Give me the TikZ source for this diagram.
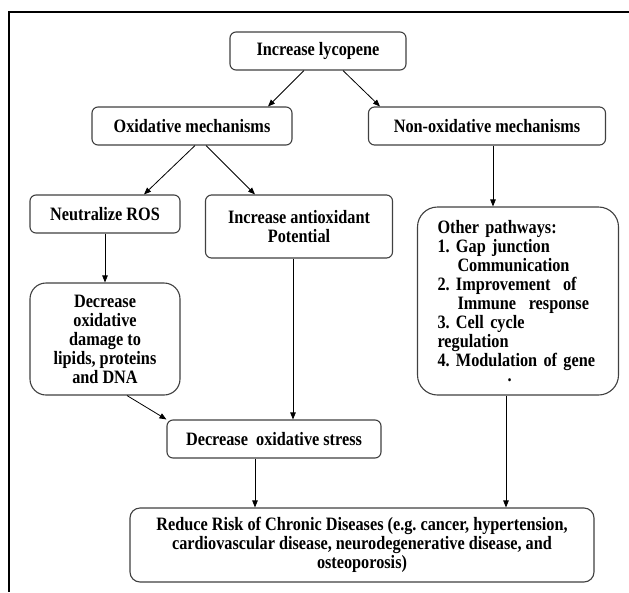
\documentclass[tikz,border=0pt]{standalone}
\usepackage{fontspec}
\setmainfont{Liberation Serif}[FakeStretch=0.86]
\usetikzlibrary{arrows.meta,calc}
\newcommand\boxfont{\fontsize{18.9}{19}\selectfont\bfseries\frenchspacing}
\begin{document}
\begin{tikzpicture}[x=1pt,y=-1pt,
  box/.style={draw=black!75, line width=1.1pt, rounded corners=6pt, fill=white,
    font=\boxfont, align=center, inner sep=0pt},
  arr/.style={-{Triangle[length=7pt,width=5.5pt]}, line width=0.8pt},
]
\useasboundingbox (0,0) rectangle (629,592);
\draw[line width=1.5pt] (629,12) -- (9,12) -- (9,592);

\node[box, minimum width=176pt, minimum height=38pt] (lyc) at (318,51) {Increase lycopene};
\node[box, minimum width=200pt, minimum height=38pt] (oxm) at (192,126) {Oxidative mechanisms};
\node[box, minimum width=237pt, minimum height=38pt] (nox) at (487,126) {Non-oxidative mechanisms};
\node[box, minimum width=150pt, minimum height=38pt] (ros) at (105,214) {Neutralize ROS};
\node[box, minimum width=187pt, minimum height=63pt] (ant) at (299,226.5) {Increase antioxidant\\Potential};
\node[box, minimum width=150pt, minimum height=112pt, rounded corners=16pt] (dmg) at (105,339)
  {Decrease\\oxidative\\damage to\\lipids, proteins\\and DNA};
\node[box, minimum width=201pt, minimum height=188pt, rounded corners=20pt, align=left, text width=161pt] (oth) at (518,301)
  {Other pathways:\\1. Gap junction\\\hspace*{20pt}Communication\\2. Improvement\ \ of\\\hspace*{20pt}Immune\ \ response\\3. Cell cycle\\regulation\\4. Modulation of gene\\[-4pt]\hspace*{70pt}.};
\node[box, minimum width=214pt, minimum height=38pt] (str) at (274,439) {Decrease\ \ oxidative stress};
\node[box, minimum width=464pt, minimum height=74pt, rounded corners=10pt] (rsk) at (362,545)
  {Reduce Risk of Chronic Diseases (e.g. cancer, hypertension,\\cardiovascular disease, neurodegenerative disease, and\\osteoporosis)};

\draw[arr] ([xshift=-14pt]lyc.south) -- ([xshift=76pt]oxm.north);
\draw[arr] ([xshift=25pt]lyc.south) -- ([xshift=-107pt]nox.north);
\draw[arr] ([xshift=3pt]oxm.south) -- ([xshift=39pt]ros.north);
\draw[arr] ([xshift=14pt]oxm.south) -- ([xshift=-44pt]ant.north);
\draw[arr] ([xshift=6pt]nox.south) -- ([xshift=6pt]nox.south |- oth.north);
\draw[arr] (ros) -- (dmg);
\draw[arr] ([xshift=-6pt]ant.south) -- ([xshift=-6pt]ant.south |- str.north);
\draw[arr] ([xshift=22pt]dmg.south) -- (str.north west);
\draw[arr] ([xshift=-12pt]oth.south) -- ([xshift=-12pt]oth.south |- rsk.north);
\draw[arr] ([xshift=-19pt]str.south) -- ([xshift=-19pt]str.south |- rsk.north);
\end{tikzpicture}
\end{document}
